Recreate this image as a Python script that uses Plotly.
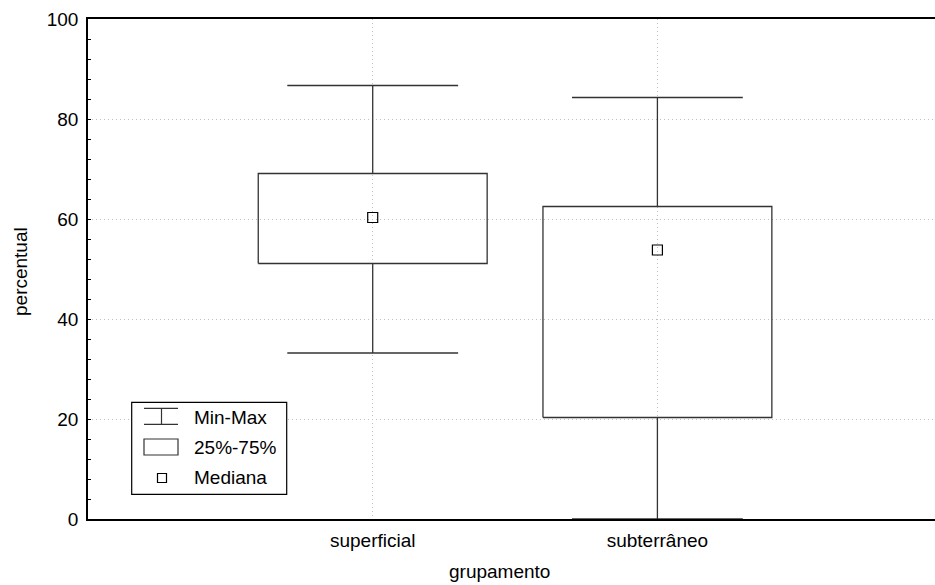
import plotly.graph_objects as go

categories = ["superficial", "subterrâneo"]
minimum = [33.2, 0.0]
q1 = [51.1, 20.3]
median = [60.3, 53.8]
q3 = [69.1, 62.5]
maximum = [86.7, 84.3]

y_ticks = [0, 20, 40, 60, 80, 100]
legend_labels = ["Min-Max", "25%-75%", "Mediana"]

BOX_HALF = 0.402
CAP_HALF = 0.300
FONT = "Liberation Sans, Arial, sans-serif"
FS = 19
LINE = "#333333"
GRID = "#c0c0c0"

fig = go.Figure()
positions = [i + 1 for i in range(len(categories))]

for i, c in enumerate(positions):
    # whiskers
    fig.add_trace(go.Scatter(
        x=[c, c, None, c, c, None, c - CAP_HALF, c + CAP_HALF, None, c - CAP_HALF, c + CAP_HALF],
        y=[q3[i], maximum[i], None, q1[i], minimum[i], None, maximum[i], maximum[i], None, minimum[i], minimum[i]],
        mode="lines", line=dict(color=LINE, width=1.3), hoverinfo="skip", showlegend=False))
    # box
    fig.add_trace(go.Scatter(
        x=[c - BOX_HALF, c + BOX_HALF, c + BOX_HALF, c - BOX_HALF, c - BOX_HALF],
        y=[q1[i], q1[i], q3[i], q3[i], q1[i]],
        mode="lines", line=dict(color=LINE, width=1.3), hoverinfo="skip", showlegend=False))

fig.add_trace(go.Scatter(
    x=positions, y=median, mode="markers",
    marker=dict(symbol="square-open", size=10, color="black", line=dict(width=1.2)),
    showlegend=False))

# legend drawn manually (paper x, data y)
L, T, B = 88, 19, 519
W = 935 - L

def px(v):
    return (v - L) / float(W)

def py(v):
    return (B - v) / 5.0

shapes = []
shapes.append(dict(type="rect", xref="paper", yref="y", x0=px(131.7), x1=px(286.7), y0=py(494.3), y1=py(402.3),
                   line=dict(color="black", width=1.2), fillcolor="white", layer="above"))
for yy in (408.3, 424.3):
    shapes.append(dict(type="line", xref="paper", yref="y", x0=px(144), x1=px(178), y0=py(yy), y1=py(yy),
                       line=dict(color=LINE, width=1.2), layer="above"))
shapes.append(dict(type="line", xref="paper", yref="y", x0=px(161.5), x1=px(161.5), y0=py(408.3), y1=py(424.3),
                   line=dict(color=LINE, width=1.2), layer="above"))
shapes.append(dict(type="rect", xref="paper", yref="y", x0=px(144), x1=px(178), y0=py(455), y1=py(439),
                   line=dict(color=LINE, width=1.2), layer="above"))
shapes.append(dict(type="rect", xref="paper", yref="y", x0=px(157.5), x1=px(166.5), y0=py(482.5), y1=py(473.5),
                   line=dict(color="black", width=1.2), layer="above"))

annotations = []
for lbl, yy in zip(legend_labels, (417, 447, 477)):
    annotations.append(dict(text=lbl, xref="paper", yref="y", x=px(192), y=py(yy), xanchor="left",
                            yanchor="middle", showarrow=False, font=dict(size=FS, color="black", family=FONT)))

annotations.append(dict(text="percentual", xref="paper", yref="paper", x=px(20), y=(B - 272) / 500.0,
                        textangle=-90, showarrow=False, xanchor="center", yanchor="middle",
                        font=dict(size=FS, color="black", family=FONT)))
annotations.append(dict(text="grupamento", xref="paper", yref="paper", x=px(499), y=(B - 571) / 500.0,
                        showarrow=False, xanchor="center", yanchor="middle",
                        font=dict(size=FS, color="black", family=FONT)))

fig.update_layout(
    width=935, height=585,
    margin=dict(l=L, r=0, t=T, b=585 - B),
    paper_bgcolor="white", plot_bgcolor="white",
    font=dict(family=FONT, size=FS, color="black"),
    shapes=shapes, annotations=annotations,
    xaxis=dict(range=[0, 2.975], tickvals=positions, ticktext=categories, showline=True, linecolor="black",
               linewidth=1.5, mirror=True, ticks="", showgrid=True, gridcolor=GRID, griddash="1px,3px",
               gridwidth=1, zeroline=False, tickfont=dict(size=FS), automargin=False, ticklabelstandoff=3),
    yaxis=dict(range=[0, 100], tickvals=y_ticks, showline=True, linecolor="black", linewidth=1.5,
               ticks="inside", ticklen=3, tickcolor="black", showgrid=True, gridcolor=GRID,
               griddash="1px,3px", gridwidth=1, zeroline=False, tickfont=dict(size=FS), automargin=False,
               ticklabelstandoff=4,
               minor=dict(dtick=4, ticks="inside", ticklen=3, tickcolor="black", showgrid=False)),
)

fig.write_html("out.html", config={"displayModeBar": False},
               post_script="document.body.style.margin='0';document.body.style.overflow='hidden';")
